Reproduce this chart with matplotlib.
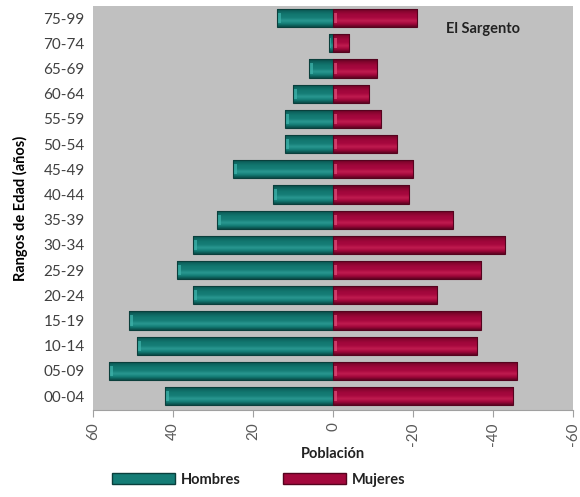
import numpy as np
import matplotlib.pyplot as plt
from matplotlib.colors import LinearSegmentedColormap

grupos = ["00-04", "05-09", "10-14", "15-19", "20-24", "25-29", "30-34", "35-39",
          "40-44", "45-49", "50-54", "55-59", "60-64", "65-69", "70-74", "75-99"]
hombres = [42, 56, 49, 51, 35, 39, 35, 29, 15, 25, 12, 12, 10, 6, 1, 14]
mujeres = [45, 46, 36, 37, 26, 37, 43, 30, 19, 20, 16, 12, 9, 11, 4, 21]
ticks_x = [60, 40, 20, 0, -20, -40, -60]

plt.rcParams["font.family"] = ["Lato", "DejaVu Sans"]

fig = plt.figure(figsize=(5.8, 4.97), dpi=100)
ax = fig.add_axes([0.1603, 0.175, 0.828, 0.813])
ax.set_facecolor("#c0c0c0")

# vertical shading for the cylinder look of each bar
cm_h = LinearSegmentedColormap.from_list(
    "h", ["#0a4a46", "#137d76", "#2a9891", "#157d76", "#127870", "#0e6560", "#0a4a46"])
cm_m = LinearSegmentedColormap.from_list(
    "m", ["#5e0321", "#a3083c", "#c01c50", "#a7083e", "#a0073b", "#87052f", "#5e0321"])
grad = np.linspace(1, 0, 64).reshape(-1, 1)

y = np.arange(len(grupos))
alto = 0.72


def barras(valores, signo, cmap, borde, tapa):
    rects = ax.barh(y, [signo * v for v in valores], height=alto,
                    color="none", edgecolor=borde, linewidth=0.8, zorder=3)
    for r, v in zip(rects, valores):
        x0, x1 = sorted([0, signo * v])
        im = ax.imshow(grad, cmap=cmap, aspect="auto", interpolation="bicubic",
                       extent=[x0, x1, r.get_y(), r.get_y() + alto], zorder=2)
        im.set_clip_path(r)
        # light cap at the visual left end of each bar
        cap = min(0.9, v * 0.5)
        xc = x1 - cap if signo > 0 else -cap
        ax.fill_between([xc, xc + cap], r.get_y() + alto * 0.22, r.get_y() + alto * 0.78,
                        color=tapa, alpha=0.75, lw=0, zorder=2.5)
    return rects


bh = barras(hombres, 1, cm_h, "#0a3f3c", "#3fb2aa")
bm = barras(mujeres, -1, cm_m, "#55031e", "#e04a78")

ax.set_xlim(60, -60)
ax.set_ylim(-0.55, len(grupos) - 0.52)
ax.set_xticks(ticks_x)
ax.set_xticklabels([str(t) for t in ticks_x], rotation=90, fontsize=11, color="#595959")
ax.set_yticks(y)
ax.set_yticklabels(grupos, fontsize=11, color="#404040")
ax.tick_params(axis="y", length=0, pad=6)
ax.tick_params(axis="x", length=5, color="#a0a0a0", pad=4)
for s in ["top", "right", "left"]:
    ax.spines[s].set_visible(False)
ax.spines["bottom"].set_color("#a0a0a0")

ax.set_xlabel("Población", fontsize=10.5, fontweight="bold", color="#222222", labelpad=1)
ax.set_ylabel("Rangos de Edad (años)", fontsize=10.5, fontweight="bold", color="black",
              labelpad=11)

ax.text(0.735, 0.943, "El Sargento", transform=ax.transAxes, fontsize=10.5,
        fontweight="bold", color="#222222", ha="left", va="center")

leg_h = plt.Rectangle((0, 0), 1, 1, facecolor="#157d76", edgecolor="#0a3f3c")
leg_m = plt.Rectangle((0, 0), 1, 1, facecolor="#a3083c", edgecolor="#55031e")
leg = fig.legend([leg_h, leg_m], ["Hombres", "Mujeres"], loc="center",
                 bbox_to_anchor=(0.446, 0.035), ncol=2, frameon=False,
                 handlelength=4.3, handleheight=0.7, columnspacing=2.9,
                 handletextpad=0.4, prop={"weight": "bold", "size": 10.5})
for t in leg.get_texts():
    t.set_color("#222222")

fig.savefig("out.png", dpi=100)
